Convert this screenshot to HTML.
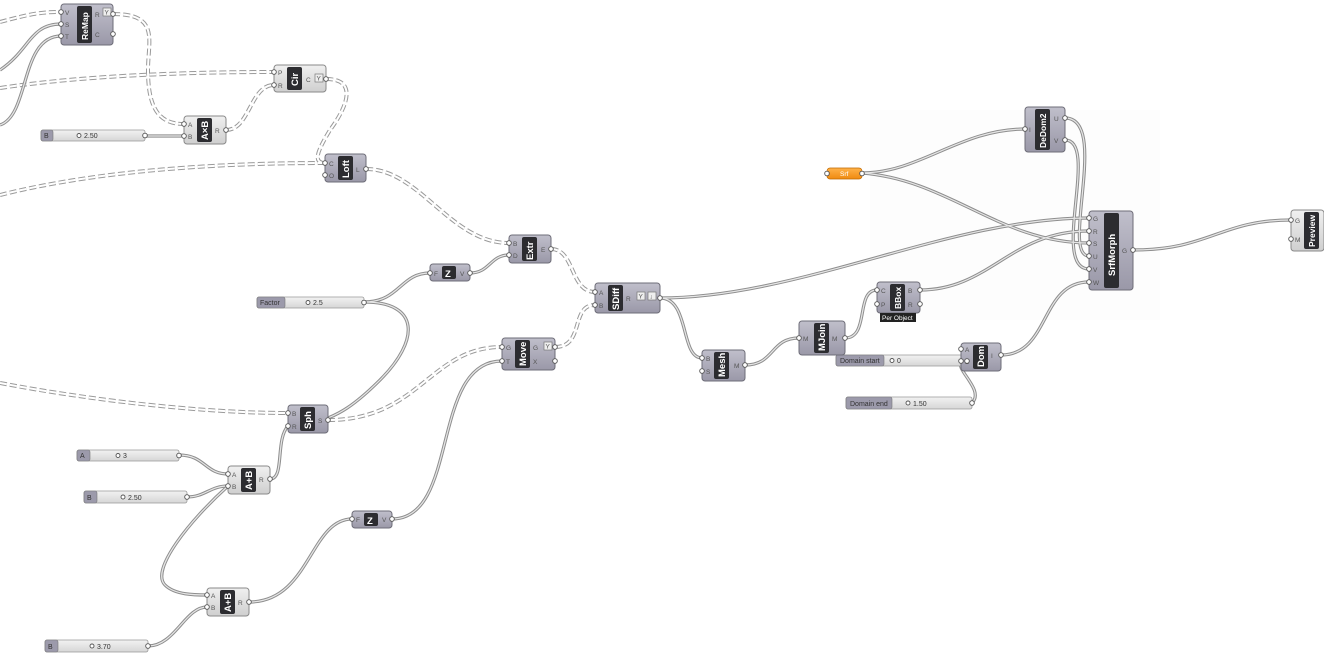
<!DOCTYPE html>
<html><head><meta charset="utf-8"><style>
html,body{margin:0;padding:0;background:#fff;width:1324px;height:658px;overflow:hidden}
svg{display:block;font-family:"Liberation Sans",sans-serif}
path{fill:none}
.w{fill:none;stroke:#8e8e8e;stroke-width:3.2}
.wi{fill:none;stroke:#e6e6e6;stroke-width:1.2}
.d{fill:none;stroke:#9a9a9a;stroke-width:4;stroke-dasharray:7 3}
.di{fill:none;stroke:#fff;stroke-width:2;stroke-dasharray:7 3}
.np{fill:url(#gp);stroke:#6e6d78;stroke-width:1}
.nl{fill:url(#gl);stroke:#8a8a8a;stroke-width:1}
.band{fill:#2c2c30}
.t{fill:#fff;font-weight:bold;font-size:9.5px}
.ts{fill:#fff;font-weight:bold;font-size:8.5px}
.pl{fill:#555;font-size:6.5px}
.pt{fill:#fff;stroke:#555;stroke-width:0.9}
.sl{fill:url(#gs);stroke:#999;stroke-width:0.8}
.sn{fill:#9c9aab;stroke:#777;stroke-width:0.6}
.st{fill:#333;font-size:7px}
</style></head><body>
<svg width="1324" height="658" viewBox="0 0 1324 658">
<defs>
<linearGradient id="gp" x1="0" y1="0" x2="0" y2="1"><stop offset="0" stop-color="#c0bfcb"/><stop offset="1" stop-color="#9a98a8"/></linearGradient>
<linearGradient id="gl" x1="0" y1="0" x2="0" y2="1"><stop offset="0" stop-color="#f0f0f0"/><stop offset="1" stop-color="#cfcfcf"/></linearGradient>
<linearGradient id="gs" x1="0" y1="0" x2="0" y2="1"><stop offset="0" stop-color="#f2f2f2"/><stop offset="1" stop-color="#d6d6d6"/></linearGradient>
<linearGradient id="go" x1="0" y1="0" x2="0" y2="1"><stop offset="0" stop-color="#ffb24a"/><stop offset="1" stop-color="#f08a10"/></linearGradient>
</defs>
<rect x="870" y="110" width="290" height="210" fill="#fdfdfd"/>

<!-- dashed wires -->
<g class="d">
<path d="M0,22 C30,14 40,12 61,12"/>
<path d="M113,14 C160,14 148,40 148,70 C148,110 160,124 184,124"/>
<path d="M0,88 C80,76 180,72 274,72"/>
<path d="M226,130 C250,130 250,85 274,85"/>
<path d="M326,79 C360,79 345,110 330,130 C318,150 312,163 325,163"/>
<path d="M0,195 C100,170 220,163 325,163"/>
<path d="M366,169 C420,169 450,243 509,243"/>
<path d="M551,249 C575,249 570,292 595,292"/>
<path d="M0,383 C90,400 200,413 288,413"/>
<path d="M328,420 C420,420 430,347 502,347"/>
<path d="M555,347 C585,347 570,305 595,305"/>
</g>
<g class="di">
<path d="M0,22 C30,14 40,12 61,12"/>
<path d="M113,14 C160,14 148,40 148,70 C148,110 160,124 184,124"/>
<path d="M0,88 C80,76 180,72 274,72"/>
<path d="M226,130 C250,130 250,85 274,85"/>
<path d="M326,79 C360,79 345,110 330,130 C318,150 312,163 325,163"/>
<path d="M0,195 C100,170 220,163 325,163"/>
<path d="M366,169 C420,169 450,243 509,243"/>
<path d="M551,249 C575,249 570,292 595,292"/>
<path d="M0,383 C90,400 200,413 288,413"/>
<path d="M328,420 C420,420 430,347 502,347"/>
<path d="M555,347 C585,347 570,305 595,305"/>
</g>

<!-- solid wires -->
<g class="w">
<path d="M0,70 C30,50 30,24 61,24"/>
<path d="M0,125 C30,115 20,36 61,36"/>
<path d="M145,136 L184,136"/>
<path d="M364,302 C400,302 400,273 430,273"/>
<path d="M364,302 C420,302 420,340 380,380 C350,410 335,415 328,418"/>
<path d="M470,273 C490,273 490,255 509,255"/>
<path d="M660,298 C800,298 950,218 1089,218"/>
<path d="M660,298 C690,298 680,358 702,358"/>
<path d="M745,365 C775,365 770,338 799,338"/>
<path d="M845,338 C870,338 855,290 877,290"/>
<path d="M920,290 C990,290 1010,231 1089,231"/>
<path d="M862,173 C920,173 960,129 1025,129"/>
<path d="M862,173 C950,180 1000,243 1089,243"/>
<path d="M1065,118 C1110,118 1060,256 1089,256"/>
<path d="M1065,140 C1100,140 1050,269 1089,269"/>
<path d="M1001,355 C1050,355 1040,282 1089,282"/>
<path d="M972,403 C985,390 955,370 961,361"/>
<path d="M179,455 C205,455 205,474 228,474"/>
<path d="M187,497 C205,497 210,486 228,486"/>
<path d="M270,479 C285,479 275,440 288,426"/>
<path d="M228,486 C190,520 150,570 165,585 C175,595 195,595 207,595"/>
<path d="M148,646 C175,646 185,607 207,607"/>
<path d="M249,602 C310,602 310,519 352,519"/>
<path d="M392,519 C460,519 430,361 502,361"/>
<path d="M1133,250 C1210,250 1220,220 1291,220"/>
</g>
<g class="wi">
<path d="M0,70 C30,50 30,24 61,24"/>
<path d="M0,125 C30,115 20,36 61,36"/>
<path d="M145,136 L184,136"/>
<path d="M364,302 C400,302 400,273 430,273"/>
<path d="M364,302 C420,302 420,340 380,380 C350,410 335,415 328,418"/>
<path d="M470,273 C490,273 490,255 509,255"/>
<path d="M660,298 C800,298 950,218 1089,218"/>
<path d="M660,298 C690,298 680,358 702,358"/>
<path d="M745,365 C775,365 770,338 799,338"/>
<path d="M845,338 C870,338 855,290 877,290"/>
<path d="M920,290 C990,290 1010,231 1089,231"/>
<path d="M862,173 C920,173 960,129 1025,129"/>
<path d="M862,173 C950,180 1000,243 1089,243"/>
<path d="M1065,118 C1110,118 1060,256 1089,256"/>
<path d="M1065,140 C1100,140 1050,269 1089,269"/>
<path d="M1001,355 C1050,355 1040,282 1089,282"/>
<path d="M972,403 C985,390 955,370 961,361"/>
<path d="M179,455 C205,455 205,474 228,474"/>
<path d="M187,497 C205,497 210,486 228,486"/>
<path d="M270,479 C285,479 275,440 288,426"/>
<path d="M228,486 C190,520 150,570 165,585 C175,595 195,595 207,595"/>
<path d="M148,646 C175,646 185,607 207,607"/>
<path d="M249,602 C310,602 310,519 352,519"/>
<path d="M392,519 C460,519 430,361 502,361"/>
<path d="M1133,250 C1210,250 1220,220 1291,220"/>
</g>

<!-- sliders -->
<g>
<rect class="sl" x="41" y="130" width="104" height="11" rx="2"/><rect class="sn" x="41" y="130" width="12" height="11" rx="2"/><text class="st" x="44" y="138">B</text><circle cx="79" cy="135.5" r="2" class="pt"/><text class="st" x="84" y="138">2.50</text>
<rect class="sl" x="257" y="297" width="107" height="11" rx="2"/><rect class="sn" x="257" y="297" width="28" height="11" rx="2"/><text class="st" x="260" y="305">Factor</text><circle cx="308" cy="302.5" r="2" class="pt"/><text class="st" x="313" y="305">2.5</text>
<rect class="sl" x="836" y="355" width="131" height="11" rx="2"/><rect class="sn" x="836" y="355" width="48" height="11" rx="2"/><text class="st" x="840" y="363">Domain start</text><circle cx="892" cy="360.5" r="2" class="pt"/><text class="st" x="897" y="363">0</text>
<rect class="sl" x="846" y="397" width="126" height="12" rx="2"/><rect class="sn" x="846" y="397" width="46" height="12" rx="2"/><text class="st" x="850" y="406">Domain end</text><circle cx="908" cy="403" r="2" class="pt"/><text class="st" x="913" y="406">1.50</text>
<rect class="sl" x="77" y="450" width="102" height="11" rx="2"/><rect class="sn" x="77" y="450" width="13" height="11" rx="2"/><text class="st" x="80" y="458">A</text><circle cx="118" cy="455.5" r="2" class="pt"/><text class="st" x="123" y="458">3</text>
<rect class="sl" x="84" y="491" width="103" height="12" rx="2"/><rect class="sn" x="84" y="491" width="13" height="12" rx="2"/><text class="st" x="87" y="500">B</text><circle cx="123" cy="497" r="2" class="pt"/><text class="st" x="128" y="500">2.50</text>
<rect class="sl" x="45" y="640" width="103" height="12" rx="2"/><rect class="sn" x="45" y="640" width="13" height="12" rx="2"/><text class="st" x="48" y="649">B</text><circle cx="92" cy="646" r="2" class="pt"/><text class="st" x="97" y="649">3.70</text>
</g>

<!-- ReMap -->
<rect class="np" x="61" y="4" width="52" height="41" rx="3"/><rect class="band" x="77" y="6" width="15" height="37" rx="2"/>
<text class="ts" transform="translate(88,40) rotate(-90)">ReMap</text>
<text class="pl" x="65" y="15">V</text><text class="pl" x="65" y="27">S</text><text class="pl" x="65" y="39">T</text><text class="pl" x="95" y="17">R</text><text class="pl" x="95" y="37">C</text>
<rect x="103" y="8" width="8" height="8" fill="#eee" stroke="#777" stroke-width="0.7"/><text class="pl" x="104.5" y="14.5">Y</text>
<circle class="pt" cx="61" cy="12" r="2.3"/><circle class="pt" cx="61" cy="24" r="2.3"/><circle class="pt" cx="61" cy="36" r="2.3"/><circle class="pt" cx="113" cy="14" r="2.3"/><circle class="pt" cx="113" cy="34" r="2.3"/>

<!-- Cir -->
<rect class="nl" x="274" y="65" width="52" height="27" rx="3"/><rect class="band" x="287" y="67" width="15" height="23" rx="2"/>
<text class="t" transform="translate(298,86) rotate(-90)">Cir</text>
<text class="pl" x="278" y="75">P</text><text class="pl" x="278" y="88">R</text><text class="pl" x="306" y="82">C</text>
<rect x="315" y="74" width="8" height="8" fill="#eee" stroke="#777" stroke-width="0.7"/><text class="pl" x="316.5" y="80.5">Y</text>
<circle class="pt" cx="274" cy="72" r="2.3"/><circle class="pt" cx="274" cy="85" r="2.3"/><circle class="pt" cx="326" cy="79" r="2.3"/>

<!-- AxB -->
<rect class="nl" x="184" y="116" width="42" height="28" rx="3"/><rect class="band" x="197" y="118" width="15" height="24" rx="2"/>
<text class="t" transform="translate(208,140) rotate(-90)">A×B</text>
<text class="pl" x="188" y="127">A</text><text class="pl" x="188" y="139">B</text><text class="pl" x="215" y="133">R</text>
<circle class="pt" cx="184" cy="124" r="2.3"/><circle class="pt" cx="184" cy="136" r="2.3"/><circle class="pt" cx="226" cy="130" r="2.3"/>

<!-- Loft -->
<rect class="np" x="325" y="154" width="41" height="28" rx="3"/><rect class="band" x="338" y="156" width="15" height="24" rx="2"/>
<text class="t" transform="translate(349,178) rotate(-90)">Loft</text>
<text class="pl" x="329" y="166">C</text><text class="pl" x="329" y="178">O</text><text class="pl" x="356" y="172">L</text>
<circle class="pt" cx="325" cy="163" r="2.3"/><circle class="pt" cx="325" cy="175" r="2.3"/><circle class="pt" cx="366" cy="169" r="2.3"/>

<!-- Extr -->
<rect class="np" x="509" y="235" width="42" height="28" rx="3"/><rect class="band" x="522" y="237" width="15" height="24" rx="2"/>
<text class="t" transform="translate(533,260) rotate(-90)">Extr</text>
<text class="pl" x="513" y="246">B</text><text class="pl" x="513" y="258">D</text><text class="pl" x="541" y="252">E</text>
<circle class="pt" cx="509" cy="243" r="2.3"/><circle class="pt" cx="509" cy="255" r="2.3"/><circle class="pt" cx="551" cy="249" r="2.3"/>

<!-- Z top -->
<rect class="np" x="430" y="264" width="40" height="17" rx="3"/><rect class="band" x="442" y="266" width="14" height="13" rx="2"/>
<text class="t" x="445" y="277">Z</text>
<text class="pl" x="434" y="276">F</text><text class="pl" x="460" y="276">V</text>
<circle class="pt" cx="430" cy="273" r="2.3"/><circle class="pt" cx="470" cy="273" r="2.3"/>

<!-- SDiff -->
<rect class="np" x="595" y="283" width="65" height="30" rx="3"/><rect class="band" x="608" y="285" width="15" height="26" rx="2"/>
<text class="t" transform="translate(619,310) rotate(-90)">SDiff</text>
<text class="pl" x="599" y="295">A</text><text class="pl" x="599" y="308">B</text><text class="pl" x="626" y="301">R</text>
<rect x="637" y="292" width="8" height="8" fill="#eee" stroke="#777" stroke-width="0.7"/><text class="pl" x="638.5" y="298.5">Y</text>
<rect x="648" y="292" width="8" height="8" fill="#eee" stroke="#777" stroke-width="0.7"/><text class="pl" x="649.5" y="298.5">↓</text>
<circle class="pt" cx="595" cy="292" r="2.3"/><circle class="pt" cx="595" cy="305" r="2.3"/><circle class="pt" cx="660" cy="298" r="2.3"/>

<!-- Move -->
<rect class="np" x="502" y="338" width="53" height="32" rx="3"/><rect class="band" x="515" y="340" width="15" height="28" rx="2"/>
<text class="t" transform="translate(526,366) rotate(-90)">Move</text>
<text class="pl" x="506" y="350">G</text><text class="pl" x="506" y="364">T</text><text class="pl" x="533" y="350">G</text><text class="pl" x="533" y="364">X</text>
<rect x="544" y="342" width="8" height="8" fill="#eee" stroke="#777" stroke-width="0.7"/><text class="pl" x="545.5" y="348.5">Y</text>
<circle class="pt" cx="502" cy="347" r="2.3"/><circle class="pt" cx="502" cy="361" r="2.3"/><circle class="pt" cx="555" cy="347" r="2.3"/><circle class="pt" cx="555" cy="361" r="2.3"/>

<!-- Sph -->
<rect class="np" x="288" y="405" width="40" height="28" rx="3"/><rect class="band" x="300" y="407" width="15" height="24" rx="2"/>
<text class="t" transform="translate(311,429) rotate(-90)">Sph</text>
<text class="pl" x="292" y="416">B</text><text class="pl" x="292" y="429">R</text><text class="pl" x="318" y="423">S</text>
<circle class="pt" cx="288" cy="413" r="2.3"/><circle class="pt" cx="288" cy="426" r="2.3"/><circle class="pt" cx="328" cy="420" r="2.3"/>

<!-- Mesh -->
<rect class="np" x="702" y="350" width="43" height="31" rx="3"/><rect class="band" x="714" y="352" width="15" height="27" rx="2"/>
<text class="t" transform="translate(725,377) rotate(-90)">Mesh</text>
<text class="pl" x="706" y="361">B</text><text class="pl" x="706" y="374">S</text><text class="pl" x="734" y="368">M</text>
<circle class="pt" cx="702" cy="358" r="2.3"/><circle class="pt" cx="702" cy="371" r="2.3"/><circle class="pt" cx="745" cy="365" r="2.3"/>

<!-- MJoin -->
<rect class="np" x="799" y="321" width="46" height="34" rx="3"/><rect class="band" x="814" y="323" width="15" height="30" rx="2"/>
<text class="t" transform="translate(825,351) rotate(-90)">MJoin</text>
<text class="pl" x="803" y="341">M</text><text class="pl" x="832" y="341">M</text>
<circle class="pt" cx="799" cy="338" r="2.3"/><circle class="pt" cx="845" cy="338" r="2.3"/>

<!-- BBox -->
<rect class="np" x="877" y="282" width="43" height="31" rx="3"/><rect class="band" x="890" y="284" width="15" height="27" rx="2"/>
<text class="ts" transform="translate(901,309) rotate(-90)">BBox</text>
<text class="pl" x="881" y="293">C</text><text class="pl" x="881" y="307">P</text><text class="pl" x="908" y="293">B</text><text class="pl" x="908" y="307">R</text>
<rect x="880" y="313" width="36" height="9" fill="#222"/><text x="882" y="320" fill="#fff" font-size="6.5">Per Object</text>
<circle class="pt" cx="877" cy="290" r="2.3"/><circle class="pt" cx="877" cy="304" r="2.3"/><circle class="pt" cx="920" cy="290" r="2.3"/><circle class="pt" cx="920" cy="304" r="2.3"/>

<!-- Srf -->
<rect x="827" y="168" width="35" height="11" rx="3" fill="url(#go)" stroke="#c06a00" stroke-width="0.7"/>
<text x="840" y="176" font-size="6.5" fill="#fff">Srf</text>
<circle class="pt" cx="827" cy="173.5" r="2.3"/><circle class="pt" cx="862" cy="173.5" r="2.3"/>

<!-- DeDom2 -->
<rect class="np" x="1025" y="107" width="40" height="45" rx="3"/><rect class="band" x="1035" y="109" width="15" height="41" rx="2"/>
<text class="ts" transform="translate(1046,148) rotate(-90)">DeDom2</text>
<text class="pl" x="1029" y="132">I</text><text class="pl" x="1054" y="121">U</text><text class="pl" x="1054" y="143">V</text>
<circle class="pt" cx="1025" cy="129" r="2.3"/><circle class="pt" cx="1065" cy="118" r="2.3"/><circle class="pt" cx="1065" cy="140" r="2.3"/>

<!-- SrfMorph -->
<rect class="np" x="1089" y="211" width="44" height="79" rx="3"/><rect class="band" x="1104" y="213" width="15" height="75" rx="2"/>
<text class="t" transform="translate(1115,276) rotate(-90)">SrfMorph</text>
<text class="pl" x="1093" y="221">G</text><text class="pl" x="1093" y="234">R</text><text class="pl" x="1093" y="246">S</text><text class="pl" x="1093" y="259">U</text><text class="pl" x="1093" y="272">V</text><text class="pl" x="1093" y="285">W</text><text class="pl" x="1122" y="253">G</text>
<circle class="pt" cx="1089" cy="218" r="2.3"/><circle class="pt" cx="1089" cy="231" r="2.3"/><circle class="pt" cx="1089" cy="243" r="2.3"/><circle class="pt" cx="1089" cy="256" r="2.3"/><circle class="pt" cx="1089" cy="269" r="2.3"/><circle class="pt" cx="1089" cy="282" r="2.3"/><circle class="pt" cx="1133" cy="250" r="2.3"/>

<!-- Preview -->
<rect class="nl" x="1291" y="210" width="33" height="41" rx="3"/><rect class="band" x="1304" y="212" width="15" height="37" rx="2"/>
<text class="ts" transform="translate(1315,247) rotate(-90)">Preview</text>
<text class="pl" x="1295" y="223">G</text><text class="pl" x="1295" y="242">M</text>
<circle class="pt" cx="1291" cy="220" r="2.3"/><circle class="pt" cx="1291" cy="239" r="2.3"/>

<!-- Dom -->
<rect class="np" x="961" y="343" width="40" height="28" rx="3"/><rect class="band" x="973" y="345" width="15" height="24" rx="2"/>
<text class="t" transform="translate(984,367) rotate(-90)">Dom</text>
<text class="pl" x="965" y="352">A</text><text class="pl" x="965" y="364">B</text><text class="pl" x="991" y="358">I</text>
<circle class="pt" cx="961" cy="349" r="2.3"/><circle class="pt" cx="961" cy="361" r="2.3"/><circle class="pt" cx="1001" cy="355" r="2.3"/>
<circle class="pt" cx="967" cy="361" r="2.3"/><circle class="pt" cx="972" cy="403" r="2.3"/>

<!-- A+B upper -->
<rect class="nl" x="228" y="466" width="42" height="28" rx="3"/><rect class="band" x="241" y="468" width="15" height="24" rx="2"/>
<text class="t" transform="translate(252,490) rotate(-90)">A+B</text>
<text class="pl" x="232" y="477">A</text><text class="pl" x="232" y="489">B</text><text class="pl" x="259" y="482">R</text>
<circle class="pt" cx="228" cy="474" r="2.3"/><circle class="pt" cx="228" cy="486" r="2.3"/><circle class="pt" cx="270" cy="479" r="2.3"/>

<!-- Z lower -->
<rect class="np" x="352" y="511" width="40" height="17" rx="3"/><rect class="band" x="364" y="513" width="14" height="13" rx="2"/>
<text class="t" x="367" y="524">Z</text>
<text class="pl" x="356" y="522">F</text><text class="pl" x="382" y="522">V</text>
<circle class="pt" cx="352" cy="519" r="2.3"/><circle class="pt" cx="392" cy="519" r="2.3"/>

<!-- A+B lower -->
<rect class="nl" x="207" y="588" width="42" height="28" rx="3"/><rect class="band" x="220" y="590" width="15" height="24" rx="2"/>
<text class="t" transform="translate(231,612) rotate(-90)">A+B</text>
<text class="pl" x="211" y="598">A</text><text class="pl" x="211" y="610">B</text><text class="pl" x="238" y="605">R</text>
<circle class="pt" cx="207" cy="595" r="2.3"/><circle class="pt" cx="207" cy="607" r="2.3"/><circle class="pt" cx="249" cy="602" r="2.3"/>

<circle class="pt" cx="145" cy="135.5" r="2.3"/><circle class="pt" cx="364" cy="302.5" r="2.3"/><circle class="pt" cx="179" cy="455.5" r="2.3"/><circle class="pt" cx="187" cy="497" r="2.3"/><circle class="pt" cx="148" cy="646" r="2.3"/>
</svg>
</body></html>
